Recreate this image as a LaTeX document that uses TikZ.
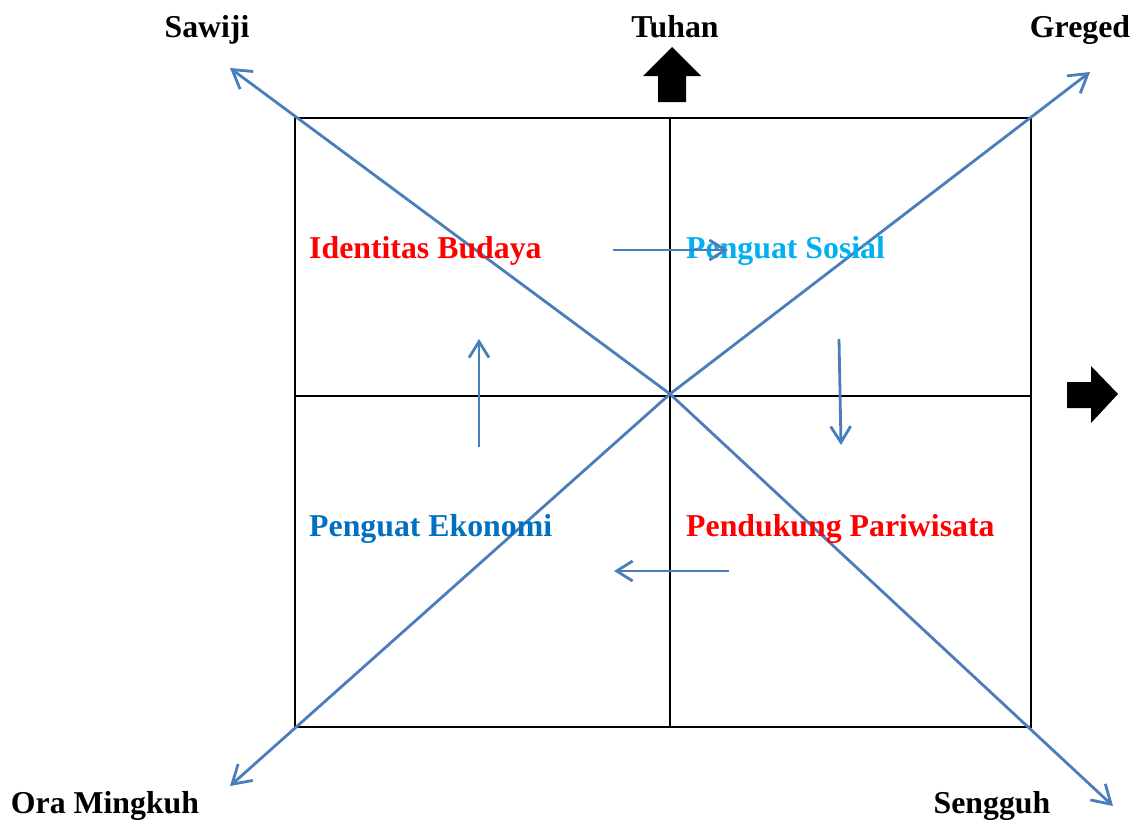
\documentclass[tikz,border=0pt]{standalone}
\usepackage{fontspec}
\setmainfont{Liberation Serif}
\usetikzlibrary{arrows.meta}
\definecolor{raycol}{RGB}{74,126,187}
\definecolor{redtext}{RGB}{255,0,0}
\definecolor{skytext}{RGB}{0,176,240}
\definecolor{bluetext}{RGB}{0,112,192}
\tikzstyle{pole}=[font=\fontsize{31.8}{36}\selectfont\bfseries,inner sep=0pt,anchor=base]
\tikzstyle{quad}=[font=\fontsize{31.8}{36}\selectfont\bfseries,inner sep=0pt,anchor=base west]
\tikzstyle{grid}=[draw,line width=2pt]
\tikzstyle{ray}=[draw=raycol,line width=2.8pt,-{Straight Barb[length=18pt,width=22pt]}]
\tikzstyle{flow}=[draw=raycol,line width=2.8pt,-{Straight Barb[length=16pt,width=20pt]}]

\begin{document}
\begin{tikzpicture}[x=1pt,y=-1pt]
    \path [use as bounding box] (0,0) rectangle (1135,822);

    \coordinate (tl) at (295,118);
    \coordinate (br) at (1031,727);
    \coordinate (mid) at (670,394);

    \draw[grid] (tl) rectangle (br);
    \draw[grid] (670,118) -- (670,727);
    \draw[grid] (295,396) -- (1031,396);

    \coordinate (sawiji) at (230,68);
    \coordinate (greged) at (1090,72);
    \coordinate (ora) at (230,786);
    \coordinate (sengguh) at (1113,806);

    \path[ray] (mid) -- (sawiji);
    \path[ray] (mid) -- (greged);
    \path[ray] (mid) -- (ora);
    \path[ray] (mid) -- (sengguh);

    \node[quad,color=redtext] (budaya) at (309,258) {Identitas Budaya};
    \node[quad,color=skytext] (sosial) at (686,258) {Penguat Sosial};
    \node[quad,color=bluetext] (ekonomi) at (309,536) {Penguat Ekonomi};
    \node[quad,color=redtext] (wisata) at (686,536) {Pendukung Pariwisata};

    \coordinate (a1) at (613,250);
    \coordinate (a2) at (728,250);
    \coordinate (b1) at (839,339);
    \coordinate (b2) at (841,445);
    \coordinate (c1) at (729,571);
    \coordinate (c2) at (614,571);
    \coordinate (d1) at (479,447);
    \coordinate (d2) at (479,339);
    \path[flow] (a1) -- (a2);
    \path[flow] (b1) -- (b2);
    \path[flow] (c1) -- (c2);
    \path[flow] (d1) -- (d2);

    \node[pole] (lsawiji) at (207,37) {Sawiji};
    \node[pole] (ltuhan) at (675,37) {Tuhan};
    \node[pole] (lgreged) at (1080,37) {Greged};
    \node[pole] (lora) at (105,813) {Ora Mingkuh};
    \node[pole] (lsengguh) at (992,813) {Sengguh};

    \fill (672,47) -- (701,76) -- (686,76) -- (686,102) -- (658,102) -- (658,76) -- (643,76) -- cycle;
    \fill (1118,394) -- (1091,366) -- (1091,382) -- (1067,382) -- (1067,408) -- (1091,408) -- (1091,423) -- cycle;
\end{tikzpicture}
\end{document}
